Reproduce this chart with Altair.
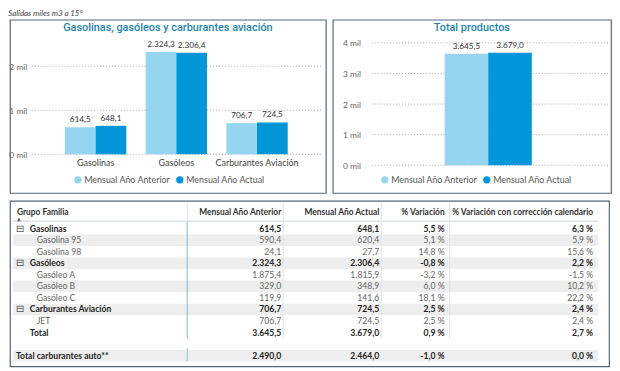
import altair as alt
import pandas as pd

# ---------------- data ----------------
categories = ["Gasolinas", "Gasóleos", "Carburantes Aviación"]
anterior = [614.5, 2324.3, 706.7]
actual = [648.1, 2306.4, 724.5]
total_cat = ["Total productos"]
total_anterior = [3645.5]
total_actual = [3679.0]
series = ["Mensual Año Anterior", "Mensual Año Actual"]
left_ticks = [0, 1000, 2000]
right_ticks = [0, 1000, 2000, 3000, 4000]

table_rows = ["Gasolinas", "Gasolina 95", "Gasolina 98", "Gasóleos", "Gasóleo A",
              "Gasóleo B", "Gasóleo C", "Carburantes Aviación", "JET", "Total",
              "Total carburantes auto**"]
row_level = ["group", "child", "child", "group", "child", "child", "child",
             "group", "child", "total", "grand"]
t_anterior = [614.5, 590.4, 24.1, 2324.3, 1875.4, 329.0, 119.9, 706.7, 706.7, 3645.5, 2490.0]
t_actual = [648.1, 620.4, 27.7, 2306.4, 1815.9, 348.9, 141.6, 724.5, 724.5, 3679.0, 2464.0]
t_var = [5.5, 5.1, 14.8, -0.8, -3.2, 6.0, 18.1, 2.5, 2.5, 0.9, -1.0]
t_corr = [6.3, 5.9, 15.6, 2.2, -1.5, 10.2, 22.2, 2.4, 2.4, 2.7, 0.0]
headers = ["Grupo Familia", "Mensual Año Anterior", "Mensual Año Actual",
           "% Variación", "% Variación con corrección calendario"]

LIGHT = "#96d5f0"
DARK = "#0096d7"
TITLE_C = "#1f84ae"
FONT = "Lato"


def es(v):
    s = f"{v:,.1f}"
    return s.replace(",", "X").replace(".", ",").replace("X", ".")


# ---------------- bar panels ----------------
def bar_panel(cats, prev, curr, title, w, h, ydom, ticks, xrange, show_x,
              yoff, gx0, gx1, lx, ly):
    df = pd.DataFrame({
        "cat": cats * 2,
        "serie": [series[0]] * len(cats) + [series[1]] * len(cats),
        "v": prev + curr,
    })
    df["label"] = df["v"].map(es)
    yscale = alt.Scale(domain=ydom, nice=False, zero=False)
    yaxis = alt.Axis(values=ticks, labelExpr="datum.value/1000 + ' mil'",
                     offset=yoff, domain=False, ticks=False, grid=False,
                     labelPadding=2, labelFontSize=8.5, labelColor="#666",
                     labelFont=FONT, title=None)
    zero_px = h * ydom[1] / (ydom[1] - ydom[0])
    xaxis = alt.Axis(offset=-(h - zero_px), domain=False,
                     ticks=False, labelPadding=4, labelFontSize=9, labelColor="#444",
                     labelFont=FONT, labelAngle=0, title=None) if show_x else None
    xscale = alt.Scale(range=xrange, paddingInner=0.24 if show_x else 0,
                       paddingOuter=0.12 if show_x else 0)
    xenc = alt.X("cat:N", sort=cats, scale=xscale, axis=xaxis, title=None)
    xoff = alt.XOffset("serie:N", sort=series,
                       scale=alt.Scale(domain=series, paddingInner=0, paddingOuter=0))

    grid = alt.Chart(pd.DataFrame({"v": ticks})).mark_rule(
        strokeDash=[1, 2], color="#aaaaaa", strokeWidth=1
    ).encode(
        y=alt.Y("v:Q", scale=yscale, axis=yaxis),
        x=alt.value(gx0), x2=alt.value(gx1),
    )
    bars = alt.Chart(df).mark_bar().encode(
        x=xenc, xOffset=xoff,
        y=alt.Y("v:Q", scale=yscale, axis=yaxis, stack=None),
        y2=alt.datum(0),
        color=alt.Color("serie:N", sort=series,
                        scale=alt.Scale(domain=series, range=[LIGHT, DARK]),
                        legend=alt.Legend(orient="none", legendX=lx, legendY=ly,
                                          direction="horizontal", title=None,
                                          symbolType="circle", symbolSize=55,
                                          labelFontSize=9, labelFont=FONT,
                                          labelColor="#555", columnPadding=4,
                                          labelOffset=2)),
    )
    labels = alt.Chart(df).mark_text(
        baseline="alphabetic", dy=-5, fontSize=8.3, color="#333", font=FONT
    ).encode(
        x=xenc, xOffset=xoff,
        y=alt.Y("v:Q", scale=yscale, axis=yaxis),
        text="label:N",
    )
    ttl = alt.Chart(pd.DataFrame({"t": [title]})).mark_text(
        fontSize=11, font="Roboto", fontWeight=500, color=TITLE_C, baseline="middle"
    ).encode(text="t:N", x=alt.value(w / 2), y=alt.value(8))
    return alt.layer(grid, bars, labels, ttl).properties(width=w, height=h)


H = 175
left = bar_panel(categories, anterior, actual,
                 "Gasolinas, gasóleos y carburantes aviación",
                 319, H, [-876, 3056], left_ticks, [45.75, 290.25], True,
                 -19, 22, 315, 64, 157)
right = bar_panel(total_cat, total_anterior, total_actual, "Total productos",
                  281, H, [-906, 4757], right_ticks, [113, 201], False,
                  -30, 40, 278, 48, 157)

top = alt.hconcat(left, right, spacing=5).resolve_scale(
    x="independent", y="independent", color="independent", xOffset="independent"
).resolve_legend(color="independent")

# ---------------- table ----------------
idx = []
for i, lev in enumerate(row_level):
    idx.append(i + 1 if lev == "grand" else i)
band = [((k % 2 == 1) and lev != "total") or lev == "grand" for k, lev in zip(idx, row_level)]
tdf = pd.DataFrame({
    "name": table_rows,
    "level": row_level,
    "idx": idx,
    "band": band,
    "bold": [lev != "child" for lev in row_level],
    "ant": [es(v) for v in t_anterior],
    "act": [es(v) for v in t_actual],
    "var": [es(v) + " %" for v in t_var],
    "corr": [es(v) + " %" for v in t_corr],
})

TW, TH = 605, 167
yscale_t = alt.Scale(domain=[0, 11], range=[28, 156.4], nice=False, zero=False)
ybase = alt.Y("idx:Q", scale=yscale_t, axis=None)
base = alt.Chart(tdf)

bands = base.transform_filter("datum.band").transform_calculate(
    y0="datum.idx - 0.5", y1="datum.idx + 0.5"
).mark_rect(color="#eeeeee").encode(
    y=alt.Y("y0:Q", scale=yscale_t, axis=None), y2="y1:Q",
    x=alt.value(3), x2=alt.value(594),
)

layers = [bands]


def txt(filter_expr, field, xpos, align, bold, color, size=8.7, font=FONT):
    return base.transform_filter(filter_expr).mark_text(
        align=align, baseline="middle", fontSize=size, font=font,
        fontWeight="bold" if bold else "normal", color=color
    ).encode(y=ybase, x=alt.value(xpos), text=f"{field}:N")


BOLD_C = "#252525"
REG_C = "#666666"
layers += [
    txt("datum.level == 'group'", "name", 20, "left", True, BOLD_C),
    txt("datum.level == 'child'", "name", 27, "left", False, REG_C),
    txt("datum.level == 'total'", "name", 20, "left", True, BOLD_C),
    txt("datum.level == 'grand'", "name", 6, "left", True, BOLD_C),
]
icons = base.transform_filter("datum.level == 'group'").mark_text(
    text="⊟", fontSize=10, font="DejaVu Sans", color="#555", baseline="middle", align="center"
).encode(y=ybase, x=alt.value(10))
layers.append(icons)

num_cols = [("ant", 274), ("act", 373), ("var", 439), ("corr", 589)]
for field, xp in num_cols:
    layers.append(txt("datum.bold", field, xp, "right", True, BOLD_C))
    layers.append(txt("!datum.bold", field, xp, "right", False, REG_C))

# header
hx = [(7, "left"), (274, "right"), (373, "right"), (439, "right"), (589, "right")]
for htext, (xp, al) in zip(headers, hx):
    layers.append(alt.Chart(pd.DataFrame({"h": [htext]})).mark_text(
        align=al, baseline="middle", fontSize=8.5, font=FONT, fontWeight="bold",
        color="#333"
    ).encode(text="h:N", x=alt.value(xp), y=alt.value(11)))
layers.append(alt.Chart(pd.DataFrame({"h": ["▲"]})).mark_text(
    fontSize=5, font="DejaVu Sans", color="#333", align="left", baseline="middle"
).encode(text="h:N", x=alt.value(7), y=alt.value(18)))

# separator lines
layers.append(alt.Chart(pd.DataFrame({"a": [0]})).mark_rule(color="#c9d3da", strokeWidth=1).encode(
    x=alt.value(3), x2=alt.value(594), y=alt.value(20.5)))
for xp in [276, 375, 444]:
    layers.append(alt.Chart(pd.DataFrame({"a": [0]})).mark_rule(color="#e4e4e4", strokeWidth=1).encode(
        x=alt.value(xp), y=alt.value(2), y2=alt.value(139)))
layers.append(alt.Chart(pd.DataFrame({"a": [0]})).mark_rule(color="#e4e4e4", strokeWidth=1).encode(
    x=alt.value(179), y=alt.value(2), y2=alt.value(20)))
layers.append(alt.Chart(pd.DataFrame({"a": [0]})).mark_rule(color="#8db7ca", strokeWidth=1).encode(
    x=alt.value(179), y=alt.value(21), y2=alt.value(139)))
layers.append(alt.Chart(pd.DataFrame({"a": [0]})).mark_rule(color="#9fc0cf", strokeWidth=1).encode(
    x=alt.value(179), y=alt.value(149), y2=alt.value(162)))

table = alt.layer(*layers).properties(width=TW, height=TH)

chart = alt.vconcat(top, table, spacing=6).properties(
    title=alt.TitleParams("Salidas miles m3 a 15°", anchor="start", fontSize=8,
                          fontStyle="italic", font=FONT, color="#444",
                          fontWeight="normal", offset=1),
    padding={"left": 0, "top": 0, "right": 0, "bottom": 0},
).configure_view(stroke="#51697c", strokeWidth=1.2)

chart.save("out.html", embed_options={"renderer": "svg", "actions": False})
